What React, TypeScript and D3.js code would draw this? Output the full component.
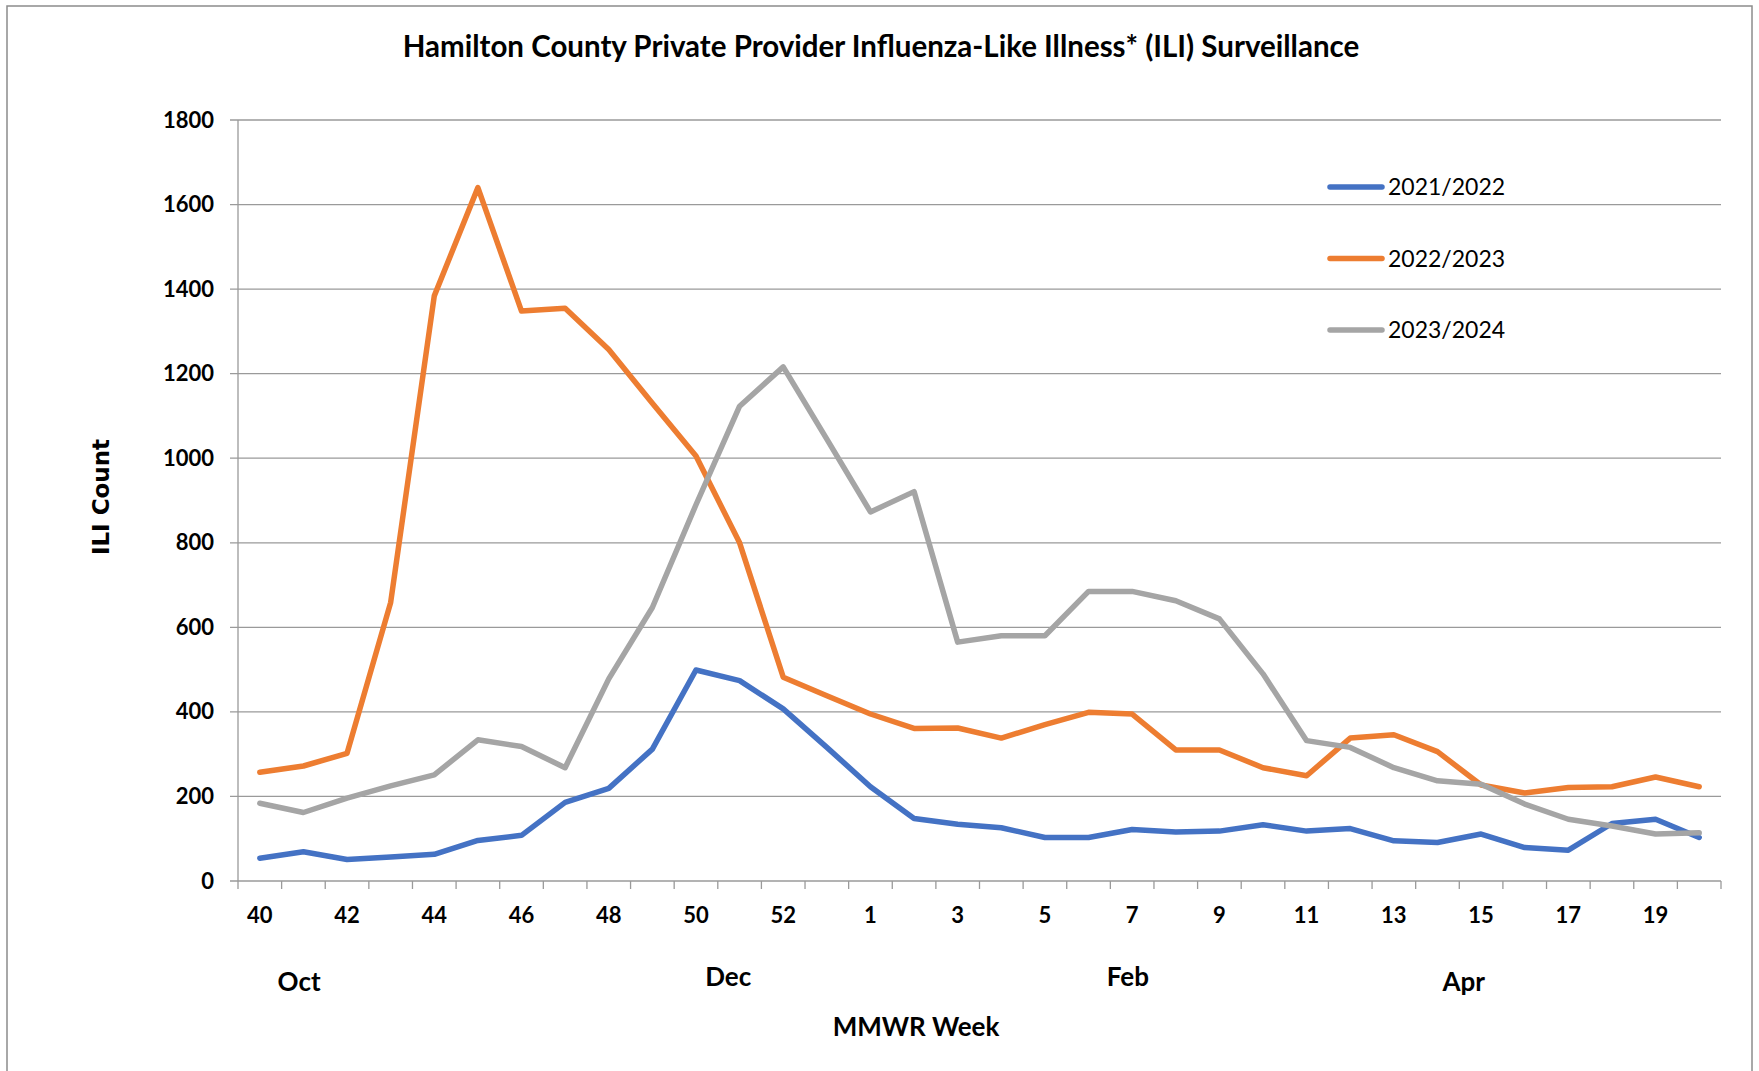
import React from 'react';
import * as d3 from 'd3';

// MMWR weeks, season runs from week 40 to week 20 (incl. week 53)
const weeks: string[] = [
  '40', '41', '42', '43', '44', '45', '46', '47', '48', '49', '50', '51', '52', '53',
  '1', '2', '3', '4', '5', '6', '7', '8', '9', '10', '11', '12', '13', '14', '15',
  '16', '17', '18', '19', '20',
];

const season2122: number[] = [
  54, 69, 51, 57, 63, 96, 108, 186, 219, 312, 499, 474, 407, 316, 223, 148, 134,
  126, 103, 103, 122, 116, 118, 133, 118, 124, 95, 91, 111, 79, 73, 136, 146, 103,
];
const season2223: number[] = [
  257, 272, 302, 659, 1384, 1640, 1348, 1355, 1257, 1130, 1005, 800, 482, 438, 395,
  361, 362, 338, 370, 399, 395, 310, 310, 268, 249, 338, 346, 306, 227, 208, 221,
  223, 246, 223,
];
const season2324: number[] = [
  184, 162, 196, 225, 251, 334, 318, 268, 478, 647, 890, 1123, 1216, 1045, 873, 921,
  565, 580, 580, 685, 685, 663, 620, 490, 332, 316, 268, 237, 229, 182, 146, 130,
  111, 114,
];

const seriesNames = ['2021/2022', '2022/2023', '2023/2024'];
const seriesColors = ['#4472C4', '#ED7D31', '#A5A5A5'];
const yTicks = [0, 200, 400, 600, 800, 1000, 1200, 1400, 1600, 1800];

// month markers: label, the week they sit under, and a shift in weeks
const months = [
  { label: 'Oct', week: '41', shift: -0.1, low: true },
  { label: 'Dec', week: '51', shift: -0.26, low: false },
  { label: 'Feb', week: '7', shift: -0.1, low: false },
  { label: 'Apr', week: '15', shift: -0.4, low: true },
];

const W = 1759;
const H = 1071;
const left = 238, right = 1721, top = 120, bottom = 881;

const App: React.FC = () => {
  const x = d3.scaleBand<string>().domain(weeks).range([left, right]).padding(0);
  const y = d3.scaleLinear().domain([0, 1800]).range([bottom, top]);
  const cx = (w: string) => (x(w) ?? 0) + x.bandwidth() / 2;

  const line = d3
    .line<number>()
    .x((_, i) => cx(weeks[i]))
    .y(d => y(d));

  const allSeries = [season2122, season2223, season2324];
  const font = 'Lato, "Open Sans", sans-serif';
  const gridColor = '#9a9a9a';

  return (
    <svg
      width={W}
      height={H}
      style={{ position: 'absolute', left: 0, top: 0, background: '#fff' }}
    >
      <rect x={7} y={6} width={1745} height={1080} fill="#fff" stroke="#8c8c8c" strokeWidth={1.5} />

      <text x={881} y={57} textAnchor="middle" fontFamily={font} fontWeight="bold" fontSize={29.5} fill="#000">
        Hamilton County Private Provider Influenza-Like Illness* (ILI) Surveillance
      </text>

      {/* gridlines + y ticks */}
      {yTicks.map(t => (
        <g key={t}>
          <line x1={left - 8} x2={right} y1={y(t)} y2={y(t)} stroke={gridColor} strokeWidth={1.3} />
          <text x={214} y={y(t) + 7.5} textAnchor="end" fontFamily={font} fontWeight="bold" fontSize={22} fill="#000">
            {t}
          </text>
        </g>
      ))}

      {/* y axis */}
      <line x1={left} x2={left} y1={top} y2={bottom} stroke={gridColor} strokeWidth={1.3} />

      {/* x ticks between categories */}
      {weeks.map(w => (
        <line key={'t' + w} x1={x(w)} x2={x(w)} y1={bottom} y2={bottom + 8} stroke={gridColor} strokeWidth={1.3} />
      ))}
      <line x1={right} x2={right} y1={bottom} y2={bottom + 8} stroke={gridColor} strokeWidth={1.3} />

      {weeks.map((w, i) =>
        i % 2 === 0 ? (
          <text key={'l' + w} x={cx(w)} y={923} textAnchor="middle" fontFamily={font} fontWeight="bold" fontSize={22} fill="#000">
            {w}
          </text>
        ) : null
      )}

      {months.map(m => (
        <text
          key={m.label}
          x={cx(m.week) + m.shift * x.bandwidth()}
          y={m.low ? 991 : 986}
          textAnchor="middle"
          fontFamily={font}
          fontWeight="bold"
          fontSize={26}
          fill="#000"
        >
          {m.label}
        </text>
      ))}

      <text x={916} y={1036} textAnchor="middle" fontFamily={font} fontWeight="bold" fontSize={26} fill="#000">
        MMWR Week
      </text>

      <text
        transform="translate(109,497) rotate(-90)"
        textAnchor="middle"
        fontFamily='"DejaVu Sans", Verdana, sans-serif'
        fontWeight="bold"
        fontSize={23}
        fill="#000"
      >
        ILI Count
      </text>

      {/* series */}
      {allSeries.map((s, i) => (
        <path
          key={seriesNames[i]}
          d={line(s) ?? ''}
          fill="none"
          stroke={seriesColors[i]}
          strokeWidth={5.5}
          strokeLinejoin="round"
          strokeLinecap="round"
        />
      ))}

      {/* legend */}
      {seriesNames.map((n, i) => {
        const ly = 187 + i * 71.5;
        return (
          <g key={'lg' + n}>
            <line x1={1330} x2={1382} y1={ly} y2={ly} stroke={seriesColors[i]} strokeWidth={5.5} strokeLinecap="round" />
            <text x={1388} y={ly + 8} fontFamily={font} fontSize={23} fill="#000">
              {n}
            </text>
          </g>
        );
      })}
    </svg>
  );
};

export default App;
